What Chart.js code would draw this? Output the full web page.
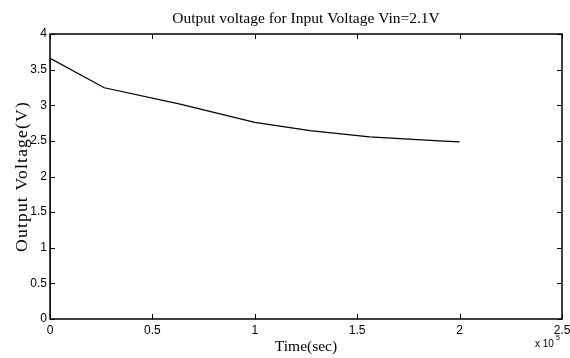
<!DOCTYPE html>
<html>
<head>
<meta charset="utf-8">
<script src="https://cdn.jsdelivr.net/npm/chart.js@4.4.1/dist/chart.umd.min.js"></script>
<style>
  html, body { margin: 0; padding: 0; background: #ffffff; }
  #wrap { width: 570px; height: 358px; }
</style>
</head>
<body>
<div id="wrap"><canvas id="chart"></canvas></div>
<script>
// time in seconds, output voltage in volts
const timeSec = [0, 0, 26500, 63000, 100000, 127000, 156000, 190000, 200000];
const voltage = [0, 3.66, 3.245, 3.02, 2.76, 2.645, 2.555, 2.50, 2.485];

const xTicks = [0, 50000, 100000, 150000, 200000, 250000];
const yTicks = [0, 0.5, 1, 1.5, 2, 2.5, 3, 3.5, 4];

const chartTitle = 'Output voltage for Input Voltage Vin=2.1V';
const yTitle = 'Output Voltage(V)';

const serif = "'Liberation Serif', 'Times New Roman', serif";
const sans = "'Liberation Sans', Arial, sans-serif";

// MATLAB style box with inward ticks on all four sides, titles, x 10^5 exponent
const matlabBox = {
  id: 'matlabBox',
  afterDraw(chart) {
    const { ctx, chartArea: a, scales } = chart;
    ctx.save();
    ctx.strokeStyle = '#000';
    ctx.lineWidth = 1.5;
    ctx.strokeRect(a.left, a.top, a.right - a.left, a.bottom - a.top);
    ctx.lineWidth = 1;
    const len = 5;
    ctx.beginPath();
    xTicks.forEach(v => {
      const px = Math.round(scales.x.getPixelForValue(v)) + 0.5;
      ctx.moveTo(px, a.bottom); ctx.lineTo(px, a.bottom - len);
      ctx.moveTo(px, a.top); ctx.lineTo(px, a.top + len);
    });
    yTicks.forEach(v => {
      const py = Math.round(scales.y.getPixelForValue(v)) + 0.5;
      ctx.moveTo(a.left, py); ctx.lineTo(a.left + len, py);
      ctx.moveTo(a.right, py); ctx.lineTo(a.right - len, py);
    });
    ctx.stroke();

    ctx.fillStyle = '#000';
    ctx.textBaseline = 'alphabetic';
    ctx.textAlign = 'center';
    ctx.font = '15.5px ' + serif;
    ctx.fillText(chartTitle, (a.left + a.right) / 2, 23);

    // y axis title, rotated, slightly letter-spaced like the MATLAB export
    ctx.save();
    ctx.translate(27, (a.top + a.bottom) / 2);
    ctx.rotate(-Math.PI / 2);
    ctx.font = '17.5px ' + serif;
    if ('letterSpacing' in ctx) ctx.letterSpacing = '1.2px';
    ctx.fillText(yTitle, 0, 0);
    ctx.restore();

    ctx.textAlign = 'left';
    ctx.font = '10px ' + sans;
    ctx.fillText('x 10', 535, 347);
    ctx.font = '7px ' + sans;
    ctx.fillText('5', 556, 340);
    ctx.restore();
  }
};

new Chart(document.getElementById('chart'), {
  type: 'scatter',
  data: {
    datasets: [{
      data: timeSec.map((t, i) => ({ x: t, y: voltage[i] })),
      showLine: true,
      borderColor: '#000000',
      borderWidth: 1.2,
      pointRadius: 0,
      tension: 0
    }]
  },
  options: {
    responsive: true,
    maintainAspectRatio: false,
    animation: false,
    layout: { padding: { left: 0, right: 0, top: 34, bottom: 0 } },
    plugins: {
      legend: { display: false },
      tooltip: { enabled: false },
      title: { display: false }
    },
    scales: {
      x: {
        type: 'linear',
        min: 0,
        max: 250000,
        afterFit(scale) { scale.height = 39; scale.paddingRight = 8; scale.paddingLeft = 0; },
        afterBuildTicks(scale) { scale.ticks = xTicks.map(v => ({ value: v })); },
        grid: { display: false, drawTicks: false },
        border: { display: false },
        ticks: {
          color: '#000',
          padding: 4,
          maxRotation: 0,
          font: { family: sans, size: 12 },
          callback: v => String(v / 100000)
        },
        title: {
          display: true,
          text: 'Time(sec)',
          color: '#000',
          font: { family: serif, size: 15.5, lineHeight: 1.2 },
          padding: { top: 0, bottom: 2 }
        }
      },
      y: {
        min: 0,
        max: 4,
        afterFit(scale) { scale.width = 50; },
        afterBuildTicks(scale) { scale.ticks = yTicks.map(v => ({ value: v })); },
        grid: { display: false, drawTicks: false },
        border: { display: false },
        ticks: {
          color: '#000',
          padding: 3,
          font: { family: sans, size: 12 },
          callback: v => String(v)
        },
        title: { display: false }
      }
    }
  },
  plugins: [matlabBox]
});
</script>
</body>
</html>
